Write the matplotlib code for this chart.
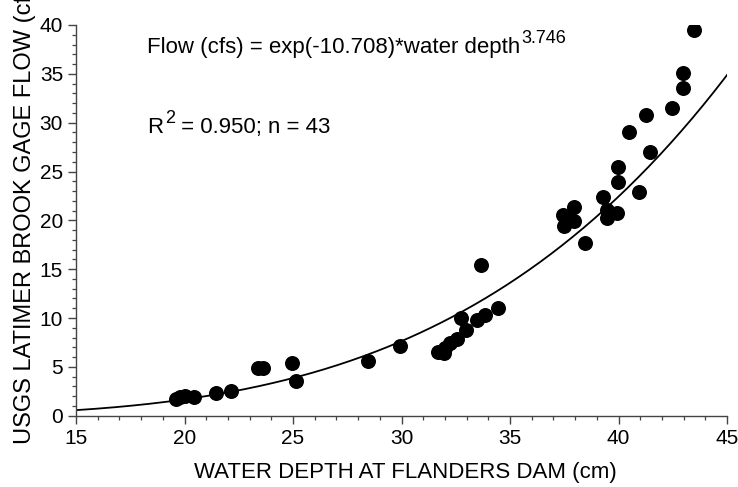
import numpy as np
import matplotlib
matplotlib.use("Agg")
import matplotlib.pyplot as plt
from matplotlib.ticker import MultipleLocator
from matplotlib.transforms import Affine2D

plt.rcParams['font.family'] = ['Liberation Sans', 'DejaVu Sans']

# Observed pairs: water depth at Flanders Dam (cm) vs USGS gage flow (cfs)
depth = [19.6, 19.8, 20.0, 20.45, 21.45, 22.13, 23.41, 23.64, 24.94, 25.13,
         28.46, 29.94, 31.7, 31.95, 32.0, 32.25, 32.55, 32.75, 32.95, 33.47,
         33.86, 34.45, 33.66, 38.47, 37.45, 37.95, 37.47, 37.95, 39.27, 39.45,
         39.45, 39.94, 39.96, 39.96, 40.96, 41.46, 40.47, 41.27, 42.46, 42.95,
         42.95, 43.46, 37.7]
flow = [1.75, 1.9, 2.0, 1.95, 2.29, 2.56, 4.88, 4.88, 5.43, 3.58,
        5.55, 7.17, 6.55, 6.45, 6.9, 7.45, 7.9, 10.0, 8.8, 9.8,
        10.35, 11.05, 15.42, 17.71, 20.5, 21.35, 19.45, 19.9, 22.35, 21.1,
        20.2, 20.75, 23.9, 25.5, 22.93, 26.95, 29.0, 30.8, 31.55, 33.6,
        35.05, 39.5, 20.0]

# Fitted power relation
ln_a = -10.708
b = 3.746
r2 = 0.950

W, H = 738, 487
fig = plt.figure(figsize=(W / 100, H / 100), dpi=100)
ax = fig.add_axes([76 / W, 1 - 415.7 / H, 651 / W, 390.7 / H])

xc = np.linspace(15, 45, 300)
ax.plot(xc, np.exp(ln_a) * xc ** b, color='black', lw=1.3, zorder=2)
ax.plot(depth, flow, 'o', color='black', markersize=10.8, markeredgewidth=0, zorder=3)

ax.set_xlim(15, 45)
ax.set_ylim(0, 40)
ax.xaxis.set_major_locator(MultipleLocator(5))
ax.xaxis.set_minor_locator(MultipleLocator(1))
ax.yaxis.set_major_locator(MultipleLocator(5))
ax.yaxis.set_minor_locator(MultipleLocator(1))

for s in ('top', 'right'):
    ax.spines[s].set_visible(False)
for s in ('left', 'bottom'):
    ax.spines[s].set_color('#444444')
    ax.spines[s].set_linewidth(1.0)

ax.tick_params(which='major', direction='out', length=5.8, width=1.0, color='#444444',
               labelsize=15, pad=3.5)
ax.tick_params(which='minor', direction='out', length=3.0, width=0.9, color='#444444')

fig.text(405.5 / W, 9 / H, 'WATER DEPTH AT FLANDERS DAM (cm)', ha='center',
         va='baseline', fontsize=16)
fig.text(25 / W, 43 / H, 'USGS LATIMER BROOK GAGE FLOW (cfs)', rotation=90,
         ha='center', va='bottom', fontsize=17)


def text_with_sup(x, y, main, sup, size, sup_size, rise):
    """Write main text at axes coords, followed by a raised superscript."""
    t = ax.text(x, y, main, transform=ax.transAxes, fontsize=size,
                ha='left', va='baseline')
    fig.canvas.draw()
    bb = t.get_window_extent()
    base = ax.transAxes.transform((x, y))[1]
    s = fig.text((bb.x1 + 1) / W, (base + rise) / H, sup, fontsize=sup_size,
                 ha='left', va='baseline')
    fig.canvas.draw()
    return s.get_window_extent().x1, base


text_with_sup(0.1086, 0.9276, 'Flow (cfs) = exp(%.3f)*water depth' % ln_a,
              '%.3f' % b, 16, 13, 10)
x_end, base = text_with_sup(0.110, 0.723, 'R', '2', 16, 13, 10.5)
# remainder of the fit statistics line, after the superscript
fig.text(0, 0, ' = %.3f; n = %d' % (r2, len(depth)), fontsize=16, ha='left',
         va='baseline', transform=Affine2D().translate(x_end, base))

fig.savefig('out.png', dpi=100)
